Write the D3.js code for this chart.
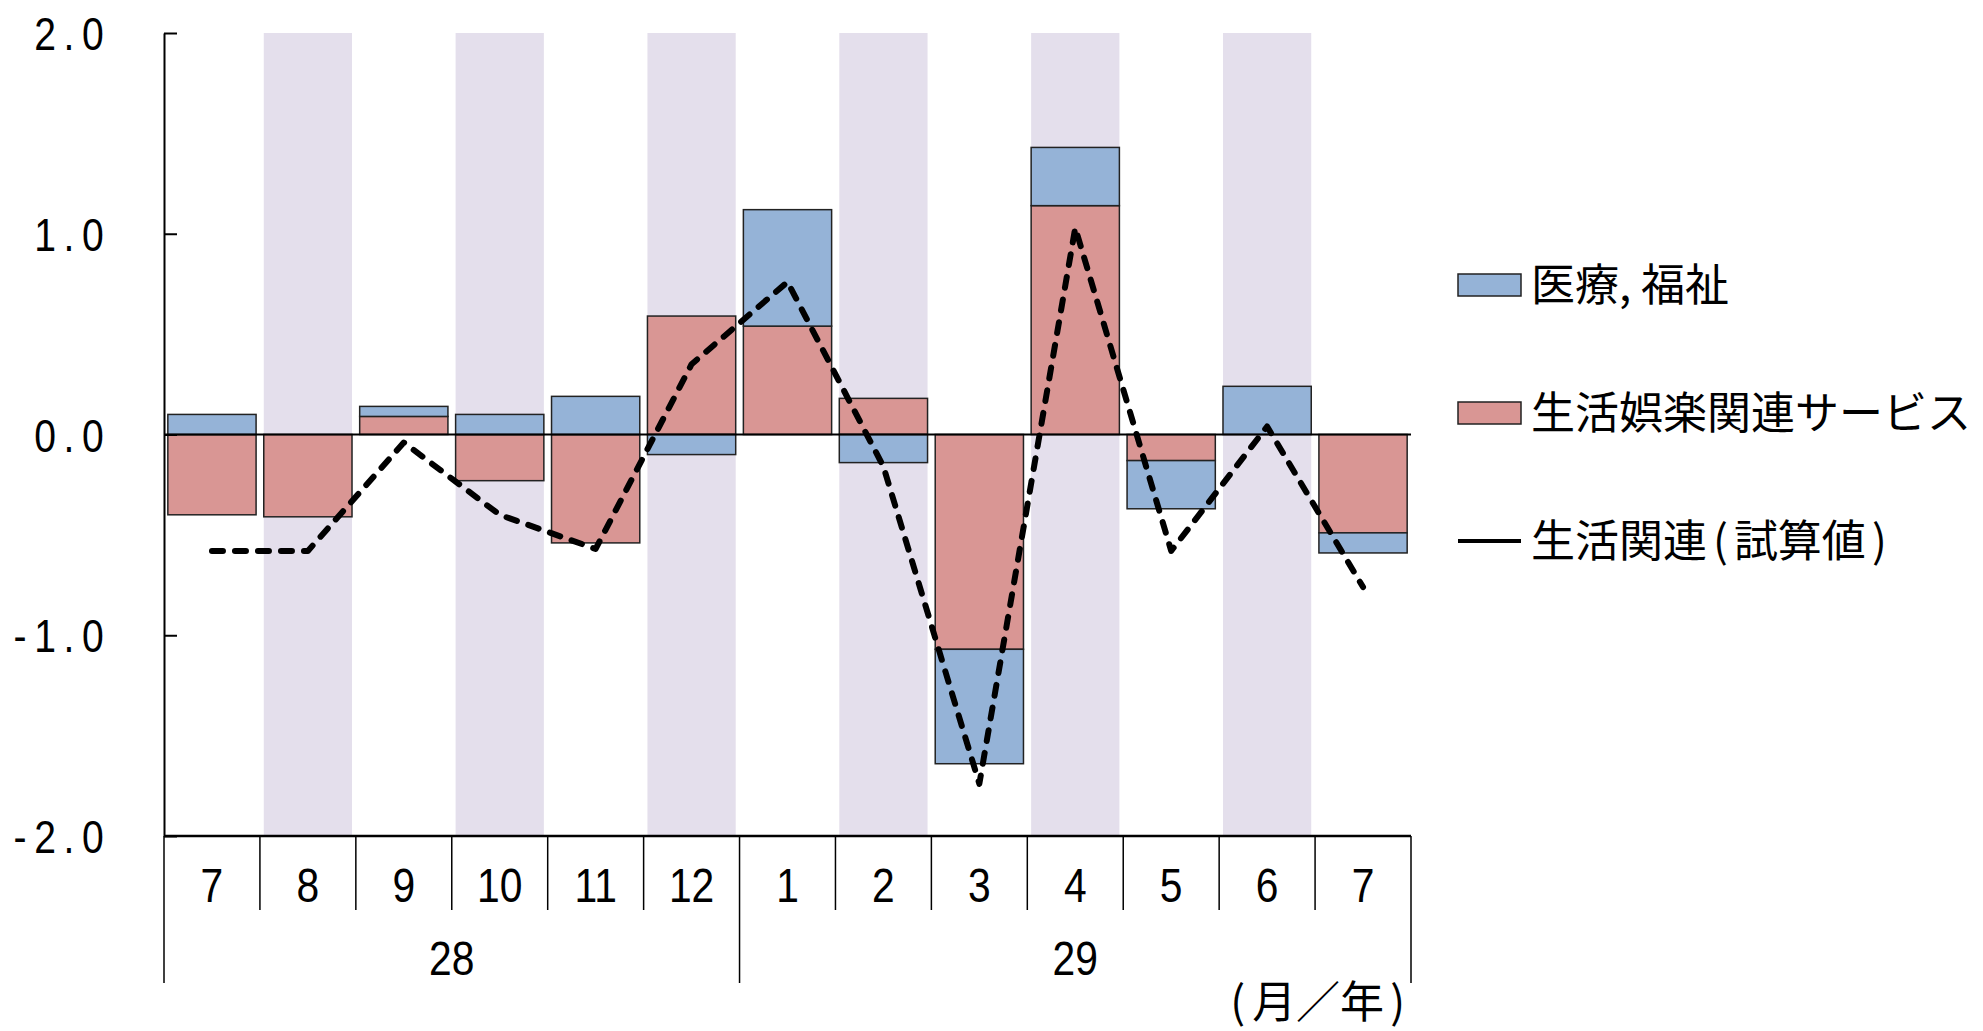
<!DOCTYPE html>
<html>
<head>
<meta charset="utf-8">
<script src="https://cdn.jsdelivr.net/npm/d3@7"></script>
<style>
  body { margin: 0; background: #fff; }
  svg { display: block; }
  .num { font-family: "Liberation Sans", Arial, sans-serif; }
  .jp { font-family: "Noto Sans CJK JP", sans-serif; }
</style>
</head>
<body>
<div id="chart"></div>
<script>
// months (x categories) and year groups
var months = ["7", "8", "9", "10", "11", "12", "1", "2", "3", "4", "5", "6", "7"];
var years = ["28", "29"];
var yearStart = [0, 6];   // first month index of each year
var yearEnd = [5, 12];

// series values (contribution, %)
var service = [-0.40, -0.41, 0.09, -0.23, -0.54, 0.59, 0.54, 0.18, -1.07, 1.14, -0.13, 0.00, -0.49];
var medical = [0.10, 0.00, 0.05, 0.10, 0.19, -0.10, 0.58, -0.14, -0.57, 0.29, -0.24, 0.24, -0.10];
var total = [-0.58, -0.58, -0.04, -0.40, -0.57, 0.35, 0.76, -0.16, -1.74, 1.03, -0.58, 0.04, -0.76];

var yTicks = [2.0, 1.0, 0.0, -1.0, -2.0];
var seriesNames = ["医療, 福祉", "生活娯楽関連サービス", "生活関連(試算値)"];

var svgWidth = 1983, svgHeight = 1031;
var margin = { top: 33, left: 164, right: 572, bottom: 195 };
var width = svgWidth - margin.left - margin.right;
var height = svgHeight - margin.top - margin.bottom;

var colorBlue = "#95b3d7", colorRed = "#d99694", colorStripe = "#e4dfec";
var squeeze = 0.85;   // narrow look of the digits

var svg = d3.select("#chart").append("svg")
  .attr("width", svgWidth)
  .attr("height", svgHeight);

var chartGroup = svg.append("g")
  .attr("transform", `translate(${margin.left}, ${margin.top})`);

// scales
var xScale = d3.scaleBand()
  .domain(d3.range(months.length))
  .range([0, width])
  .paddingInner(0.08)
  .paddingOuter(0.04);

var yScale = d3.scaleLinear()
  .domain([-2, 2])
  .range([height, 0]);

var step = xScale.step();

// stacked data (service first, next to zero)
var table = months.map(function(m, i) {
  return { i: i, service: service[i], medical: medical[i] };
});
var stack = d3.stack()
  .keys(["service", "medical"])
  .offset(d3.stackOffsetDiverging);
var layers = stack(table);

// background stripes on every other month
chartGroup.append("g")
  .selectAll("rect")
  .data(d3.range(months.length).filter(function(i) { return i % 2 === 1; }))
  .enter().append("rect")
  .attr("x", function(i) { return xScale(i); })
  .attr("width", xScale.bandwidth())
  .attr("y", yScale(2))
  .attr("height", yScale(-2) - yScale(2))
  .attr("fill", colorStripe);

// bars
var colors = { service: colorRed, medical: colorBlue };
chartGroup.append("g")
  .selectAll("g")
  .data(layers)
  .enter().append("g")
  .attr("fill", function(d) { return colors[d.key]; })
  .selectAll("rect")
  .data(function(d) { return d; })
  .enter().append("rect")
  .attr("x", function(d) { return xScale(d.data.i); })
  .attr("width", xScale.bandwidth())
  .attr("y", function(d) { return yScale(Math.max(d[0], d[1])); })
  .attr("height", function(d) { return Math.abs(yScale(d[0]) - yScale(d[1])); })
  .attr("stroke", "#222")
  .attr("stroke-width", 1.5);

// zero line
chartGroup.append("line")
  .attr("x1", 0).attr("x2", width)
  .attr("y1", yScale(0)).attr("y2", yScale(0))
  .attr("stroke", "#000")
  .attr("stroke-width", 2);

// y axis
var yaxis = d3.axisLeft(yScale)
  .tickValues(yTicks)
  .tickFormat(d3.format(".1f"))
  .tickSizeInner(-13)
  .tickSizeOuter(0)
  .tickPadding(0);

var yg = chartGroup.append("g").call(yaxis);
yg.select(".domain").attr("stroke", "#000").attr("stroke-width", 2);
yg.selectAll(".tick line").attr("stroke", "#000").attr("stroke-width", 2);
yg.selectAll(".tick text")
  .attr("class", "num")
  .attr("font-size", 46)
  .attr("letter-spacing", "9px")
  .attr("fill", "#000")
  .attr("x", -52.5 / squeeze)
  .attr("dy", "0.36em")
  .attr("transform", `scale(${squeeze},1)`)
  .text(function(d) { return d3.format(".1f")(d).replace("−", "-"); });

// x axis line at bottom
chartGroup.append("line")
  .attr("x1", 0).attr("x2", width)
  .attr("y1", height).attr("y2", height)
  .attr("stroke", "#000")
  .attr("stroke-width", 2.5);

// month row
var monthRow = 74, yearRow = 147;
var xg = chartGroup.append("g").attr("transform", `translate(0, ${height})`);

xg.selectAll("line.month")
  .data(d3.range(months.length + 1))
  .enter().append("line")
  .attr("class", "month")
  .attr("x1", function(i) { return i * step; })
  .attr("x2", function(i) { return i * step; })
  .attr("y1", 0)
  .attr("y2", monthRow)
  .attr("stroke", "#000")
  .attr("stroke-width", 1.5);

xg.selectAll("text.month")
  .data(months)
  .enter().append("text")
  .attr("class", "num")
  .attr("transform", function(d, i) {
    return `translate(${xScale(i) + xScale.bandwidth() / 2}, 66) scale(${squeeze},1)`;
  })
  .attr("text-anchor", "middle")
  .attr("font-size", 48)
  .attr("fill", "#000")
  .text(function(d) { return d; });

// year row
var yearBounds = [0, yearStart[1], months.length];
xg.selectAll("line.year")
  .data(yearBounds)
  .enter().append("line")
  .attr("x1", function(i) { return i * step; })
  .attr("x2", function(i) { return i * step; })
  .attr("y1", monthRow)
  .attr("y2", yearRow)
  .attr("stroke", "#000")
  .attr("stroke-width", 1.5);

xg.selectAll("text.year")
  .data(years)
  .enter().append("text")
  .attr("class", "num")
  .attr("transform", function(d, k) {
    return `translate(${(yearStart[k] + yearEnd[k] + 1) / 2 * step}, 139) scale(${squeeze},1)`;
  })
  .attr("text-anchor", "middle")
  .attr("font-size", 48)
  .attr("fill", "#000")
  .text(function(d) { return d; });

var unit = xg.append("text")
  .attr("class", "jp")
  .attr("x", width - 6)
  .attr("y", 182)
  .attr("text-anchor", "end")
  .attr("font-size", 44)
  .attr("fill", "#000");
unit.append("tspan").text("(");
unit.append("tspan").attr("dx", 7).text("月／年");
unit.append("tspan").attr("dx", 6).text(")");

// dashed total line
var line = d3.line()
  .x(function(d, i) { return xScale(i) + xScale.bandwidth() / 2; })
  .y(function(d) { return yScale(d); });

chartGroup.append("path")
  .datum(total)
  .attr("d", line)
  .attr("fill", "none")
  .attr("stroke", "#000")
  .attr("stroke-width", 6)
  .attr("stroke-dasharray", "11,12")
  .attr("stroke-linecap", "round")
  .attr("stroke-linejoin", "round");

// legend
var legend = svg.append("g").attr("transform", "translate(1458, 0)");
var legendY = [285, 413, 541];

legend.append("rect")
  .attr("x", 0).attr("y", legendY[0] - 11)
  .attr("width", 63).attr("height", 22)
  .attr("fill", colorBlue).attr("stroke", "#222").attr("stroke-width", 1.5);
legend.append("rect")
  .attr("x", 0).attr("y", legendY[1] - 11)
  .attr("width", 63).attr("height", 22)
  .attr("fill", colorRed).attr("stroke", "#222").attr("stroke-width", 1.5);
legend.append("line")
  .attr("x1", 0).attr("x2", 63)
  .attr("y1", legendY[2]).attr("y2", legendY[2])
  .attr("stroke", "#000").attr("stroke-width", 4);

var legendText = legend.selectAll("text")
  .data(seriesNames)
  .enter().append("text")
  .attr("class", "jp")
  .attr("x", 73)
  .attr("y", function(d, i) { return legendY[i]; })
  .attr("dy", "0.36em")
  .attr("font-size", 44)
  .attr("fill", "#000");

// half-width brackets get a little room, like the original
legendText.each(function(d) {
  var t = d3.select(this);
  var parts = d.split(/([()])/).filter(function(s) { return s.length; });
  parts.forEach(function(p, k) {
    var ts = t.append("tspan").text(p);
    if (k > 0) ts.attr("dx", 6);
  });
});
</script>
</body>
</html>
